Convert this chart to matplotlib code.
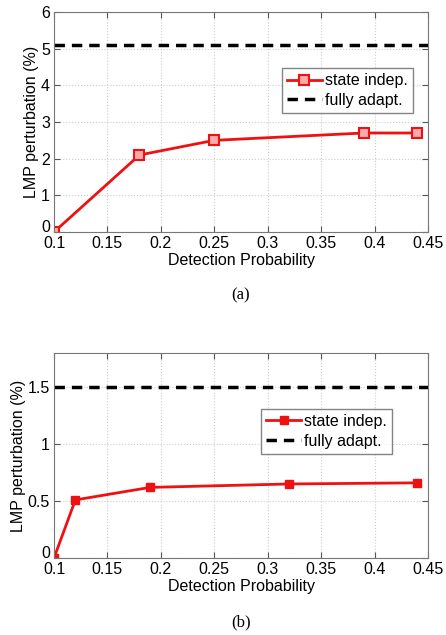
import matplotlib
matplotlib.use("Agg")
import matplotlib.pyplot as plt
import matplotlib.transforms as mtransforms

plt.rcParams['font.family'] = ['Liberation Sans', 'DejaVu Sans']

# Data
xa = [0.1, 0.18, 0.25, 0.39, 0.44]
ya = [0.0, 2.1, 2.5, 2.7, 2.7]
fa = 5.1
xb = [0.1, 0.12, 0.19, 0.32, 0.44]
yb = [0.0, 0.51, 0.62, 0.65, 0.66]
fb = 1.5
xticks = [0.1, 0.15, 0.2, 0.25, 0.3, 0.35, 0.4, 0.45]
xticklabels = ['0.1', '0.15', '0.2', '0.25', '0.3', '0.35', '0.4', '0.45']
yticks_a = [0, 1, 2, 3, 4, 5, 6]
yticks_b = [0, 0.5, 1, 1.5]
yticklabels_b = ['0', '0.5', '1', '1.5']

W, H = 446, 635
fig = plt.figure(figsize=(W/100, H/100), dpi=100)

def make_ax(top, bottom, left=54, right=428):
    return fig.add_axes([left/W, 1 - bottom/H, (right-left)/W, (bottom-top)/H])

def style(ax):
    ax.set_xlim(0.1, 0.45)
    ax.set_xticks(xticks)
    ax.set_xticklabels(xticklabels)
    ax.tick_params(direction='in', top=True, right=True, labelsize=11.5, length=4, color='#555555')
    ax.tick_params(axis='x', pad=3)
    ax.tick_params(axis='y', pad=3)
    ax.grid(True, linestyle=':', color='#cccccc', linewidth=0.8)
    for s in ax.spines.values():
        s.set_color('#777777')
        s.set_linewidth(0.8)
    ax.set_xlabel('Detection Probability', fontsize=11.5, labelpad=1)
    ax.set_ylabel('LMP perturbation (%)', fontsize=11.5, labelpad=1)

def lift_zero(ax):
    fig.canvas.draw()
    lab = ax.get_yticklabels()[0]
    lab.set_transform(lab.get_transform() + mtransforms.ScaledTranslation(0, 4/72, fig.dpi_scale_trans))

ax1 = make_ax(12, 232)
ax1.plot(xa, ya, '-s', color='#ee1111', lw=2, ms=7, mfc='#ffaaaa', mec='#ee1111', mew=1.5, label='state indep.')
ax1.axhline(fa, color='black', ls='--', lw=2.5, dashes=(3, 2), label='fully adapt.')
ax1.set_ylim(0, 6)
ax1.set_yticks(yticks_a)
style(ax1)
leg1 = ax1.legend(loc='upper right', bbox_to_anchor=(0.98, 0.78), fontsize=11.5, frameon=True, fancybox=False,
                  edgecolor='#666666', handlelength=2.2, handletextpad=0.2, borderpad=0.3, labelspacing=0.3)

ax2 = make_ax(353, 558)
ax2.plot(xb, yb, '-s', color='#ee1111', lw=2, ms=6, mfc='#ee1111', mec='#ee1111', label='state indep.')
ax2.axhline(fb, color='black', ls='--', lw=2.5, dashes=(3, 2), label='fully adapt.')
ax2.set_ylim(0, 1.8)
ax2.set_yticks(yticks_b)
ax2.set_yticklabels(yticklabels_b)
style(ax2)
leg2 = ax2.legend(loc='upper right', bbox_to_anchor=(0.925, 0.765), fontsize=11.5, frameon=True, fancybox=False,
                  edgecolor='#666666', handlelength=2.2, handletextpad=0.2, borderpad=0.3, labelspacing=0.3)

lift_zero(ax1)
lift_zero(ax2)

fig.text(241/W, 1 - 295/H, '(a)', ha='center', va='center', fontsize=12, family='Liberation Serif')
fig.text(241/W, 1 - 622/H, '(b)', ha='center', va='center', fontsize=12, family='Liberation Serif')

fig.savefig('out.png', dpi=100)
